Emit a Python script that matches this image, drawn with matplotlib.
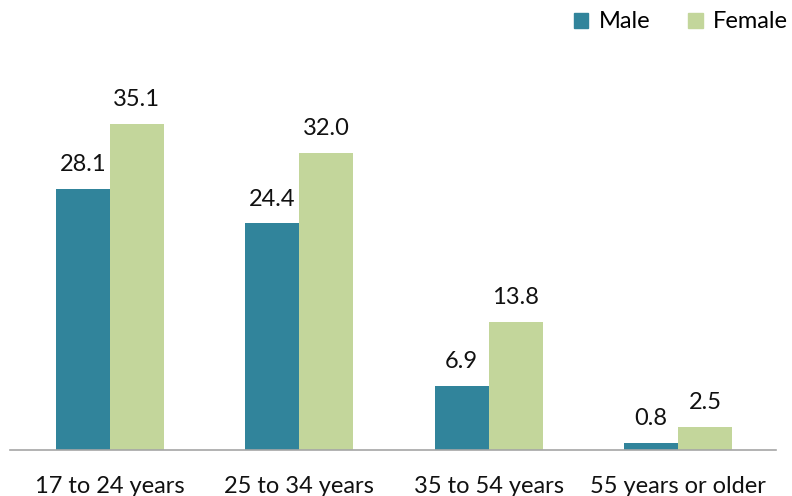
import numpy as np
import matplotlib
matplotlib.use('Agg')
import matplotlib.pyplot as plt
from matplotlib.patches import Patch

# Data
categories = ['17 to 24 years', '25 to 34 years', '35 to 54 years', '55 years or older']
male = [28.1, 24.4, 6.9, 0.8]
female = [35.1, 32.0, 13.8, 2.5]

MALE_COLOR = '#31849B'
FEMALE_COLOR = '#C3D69B'

plt.rcParams['font.family'] = ['Lato', 'DejaVu Sans']
FS = 17

fig = plt.figure(figsize=(7.92, 4.96), dpi=100)
ax = fig.add_axes([0.0126, 0.0927, 0.967, 0.749])

x = np.arange(len(categories))
w = 0.285
bars_m = ax.bar(x - w/2, male, w, color=MALE_COLOR)
bars_f = ax.bar(x + w/2, female, w, color=FEMALE_COLOR)

for bars, vals in ((bars_m, male), (bars_f, female)):
    for b, v in zip(bars, vals):
        ax.annotate('{:.1f}'.format(v), (b.get_x() + b.get_width()/2, v),
                    xytext=(0, 10), textcoords='offset points',
                    ha='center', va='bottom', fontsize=FS, color='#111111')

ax.set_xlim(-0.527, 3.517)
ax.set_ylim(0, 40)
ax.set_xticks(x)
ax.set_xticklabels(categories, fontsize=FS, color='#111111')
ax.tick_params(axis='x', length=0, pad=19)
ax.set_yticks([])
for s in ('top', 'right', 'left'):
    ax.spines[s].set_visible(False)
ax.spines['bottom'].set_color('#a6a6a6')
ax.spines['bottom'].set_linewidth(1.2)

handles = [Patch(color=MALE_COLOR, label='Male'), Patch(color=FEMALE_COLOR, label='Female')]
fig.legend(handles=handles, loc='upper right', bbox_to_anchor=(1.022, 1.02), ncol=2,
           frameon=False, fontsize=FS, handlelength=0.6, handleheight=0.6,
           handletextpad=0.45, columnspacing=1.6)

fig.savefig('out.png', dpi=100)
